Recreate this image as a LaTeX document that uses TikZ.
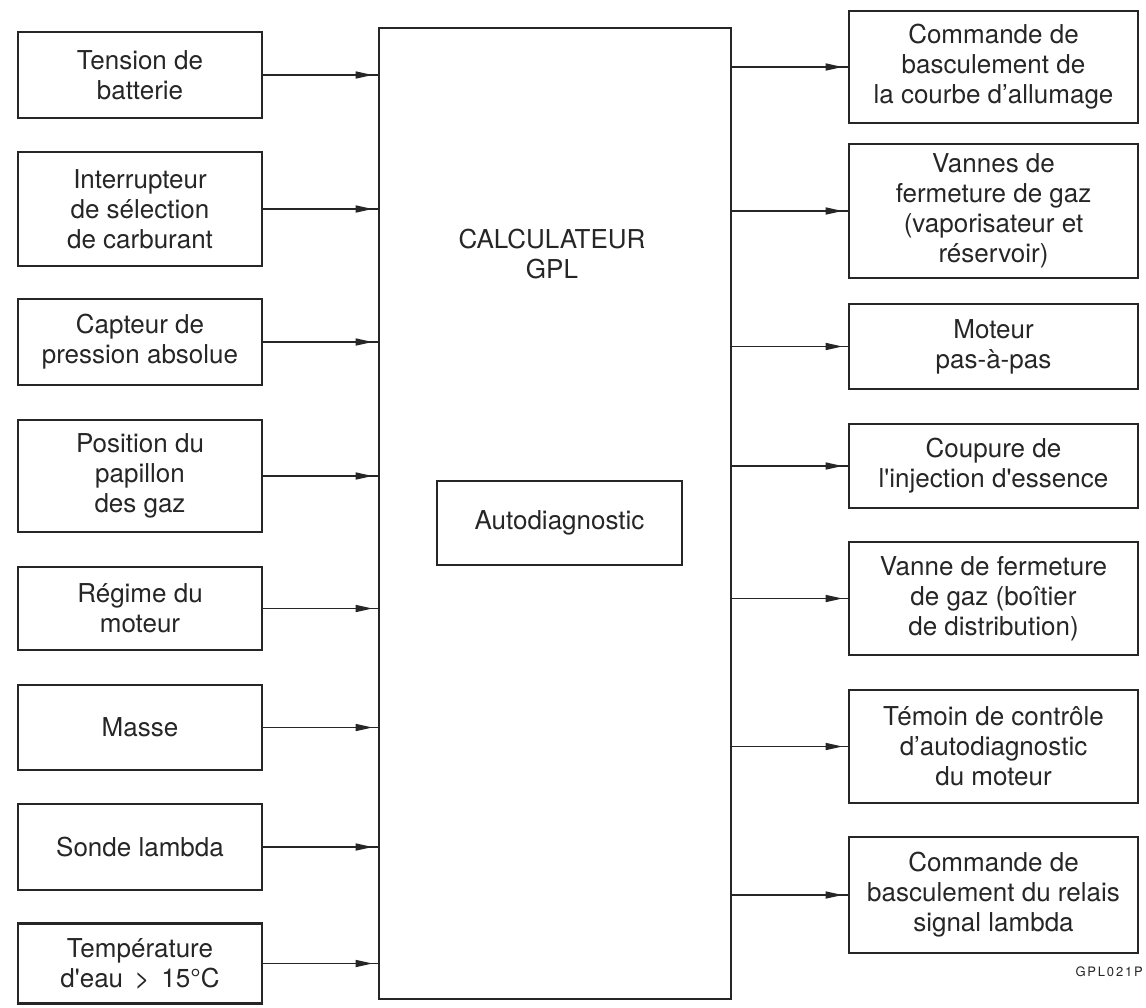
\documentclass[tikz,border=0pt]{standalone}
\usepackage{fontspec}
\setmainfont{TeX Gyre Heros}
\usetikzlibrary{arrows.meta,decorations.markings}
\definecolor{ink}{RGB}{38,38,38}
\begin{document}
\begin{tikzpicture}[x=1pt,y=-1pt,
  every node/.style={text=ink},
  inbox/.style={draw=ink, line width=2.8pt, inner sep=0pt, align=center,
    font=\fontsize{26}{30}\selectfont},
  lbox/.style={inbox, minimum width=244pt},
  rbox/.style={inbox, minimum width=289pt},
  sig/.style={draw=ink, line width=1.6pt, postaction={decorate},
    decoration={markings, mark=at position -5pt with {\arrow[ink]{Triangle[length=17pt,width=7pt]}}}}
]
\useasboundingbox (0,0) rectangle (1146,1007);

% main computer box
\node[draw=ink, line width=2.8pt, minimum width=352pt, minimum height=971pt, inner sep=0pt] (M) at (555,513.5) {};
\node[align=center, inner sep=0pt, font=\fontsize{26}{30}\selectfont] (title) at (552,254) {CALCULATEUR\\GPL};
\node[inbox, minimum width=245pt, minimum height=84pt] (auto) at (559.5,523) {Autodiagnostic};

% inputs
\node[lbox, minimum height=86pt]  (L1) at (140,75)    {Tension de\\batterie};
\node[lbox, minimum height=114pt] (L2) at (140,209)   {Interrupteur\\de sélection\\de carburant};
\node[lbox, minimum height=86pt]  (L3) at (140,342)   {Capteur de\\pression absolue};
\node[lbox, minimum height=112pt] (L4) at (140,476)   {Position du\\papillon\\des gaz};
\node[lbox, minimum height=83pt]  (L5) at (140,608.5) {Régime du\\moteur};
\node[lbox, minimum height=85pt]  (L6) at (140,727.5) {Masse};
\node[lbox, minimum height=86pt]  (L7) at (140,847)   {Sonde lambda};
\node[lbox, minimum height=80pt]  (L8) at (140,963.5) {Température\\d\textquotesingle eau \,>\, 15°C};

% outputs
\node[rbox, minimum height=112pt] (R1) at (993.5,67)    {Commande de\\basculement de\\la courbe d’allumage};
\node[rbox, minimum height=134pt] (R2) at (993.5,211)   {Vannes de\\fermeture de gaz\\(vaporisateur et\\réservoir)};
\node[rbox, minimum height=85pt]  (R3) at (993.5,346.5) {Moteur\\pas-à-pas};
\node[rbox, minimum height=84pt]  (R4) at (993.5,466)   {Coupure de\\l\textquotesingle injection d\textquotesingle essence};
\node[rbox, minimum height=113pt] (R5) at (993.5,598.5) {Vanne de fermeture\\de gaz (boîtier\\de distribution)};
\node[rbox, minimum height=113pt] (R6) at (993.5,746.5) {Témoin de contrôle\\d’autodiagnostic\\du moteur};
\node[rbox, minimum height=116pt] (R7) at (993.5,895)   {Commande de\\basculement du relais\\signal lambda};

\node[anchor=east, inner sep=0pt, font=\fontsize{13}{15}\selectfont\addfontfeatures{LetterSpace=14}] (ref) at (1143,972) {GPL021P};

% connectors
\foreach \n in {L1,L2,L3,L4,L5,L6,L7,L8}
  \draw[sig] (\n.east) -- (\n.east -| M.west);
\foreach \n in {R1,R2,R3,R4,R5,R6,R7}
  \draw[sig] (\n.west -| M.east) -- (\n.west);
\end{tikzpicture}
\end{document}
